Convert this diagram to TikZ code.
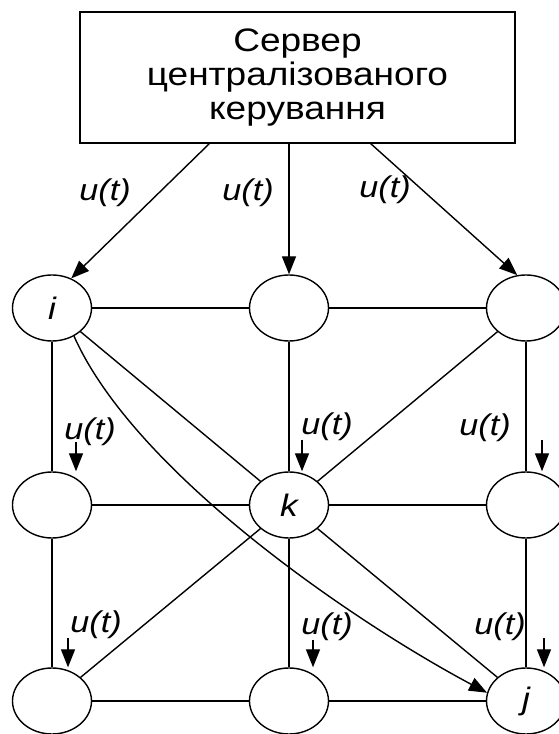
\documentclass[tikz,border=0pt]{standalone}
\usepackage{fontspec}
\setmainfont[FakeStretch=1.14]{Liberation Sans}
\usetikzlibrary{arrows.meta,shapes.geometric}
\begin{document}
\begin{tikzpicture}[x=1pt,y=1pt,
  nd/.style={ellipse,draw,line width=1.4pt,minimum width=79pt,minimum height=66pt,inner sep=0pt,font=\fontsize{31}{31}\selectfont\itshape},
  lbl/.style={font=\fontsize{30}{30}\selectfont\itshape,inner sep=0pt},
  edge/.style={line width=1.4pt},
  arr/.style={line width=1.4pt,-{Triangle[length=18pt,width=14pt]}},
]
\useasboundingbox (0,0) rectangle (558,734);
\node[draw,line width=1.8pt,minimum width=435pt,minimum height=131pt,align=center,inner sep=0pt,font=\fontsize{32.5}{34}\selectfont] (srv) at (297.5,656.5) {Сервер\\централізованого\\керування};

\node[nd] (i)  at (52,426) {i};
\node[nd] (t2) at (289,426) {};
\node[nd] (t3) at (526,426) {};
\node[nd] (ml) at (52,229) {};
\node[nd] (k)  at (289,229) {k};
\node[nd] (mr) at (526,229) {};
\node[nd] (bl) at (52,33) {};
\node[nd] (bm) at (289,33) {};
\node[nd] (j)  at (526,33) {j};

% server arrows
\coordinate (s1) at (210,591);
\coordinate (s2) at (289,591);
\coordinate (s3) at (370,591);
\draw[arr] (s1) -- (i.57);
\draw[arr] (s2) -- (t2.north);
\draw[arr] (s3) -- (t3.105);
\node[lbl] (l1) at (105,541) {u(t)};
\node[lbl] (l2) at (248,541) {u(t)};
\node[lbl] (l3) at (385,544) {u(t)};

% grid
\draw[edge] (i) -- (t2);
\draw[edge] (t2) -- (t3);
\draw[edge] (ml) -- (k);
\draw[edge] (k) -- (mr);
\draw[edge] (bl) -- (bm);
\draw[edge] (bm) -- (j);
\draw[edge] (i) -- (ml);
\draw[edge] (ml) -- (bl);
\draw[edge] (t2) -- (k);
\draw[edge] (k) -- (bm);
\draw[edge] (t3) -- (mr);
\draw[edge] (mr) -- (j);
% diagonals
\draw[edge] (i) -- (k);
\draw[edge] (t3) -- (k);
\draw[edge] (k) -- (bl);
\draw[edge] (k) -- (j);
\draw[arr] (i.308) .. controls +(-66:150) and +(152:150) .. (j.168);

% local control inputs
\coordinate (a1) at (76,292);
\coordinate (a2) at (302,294);
\coordinate (a3) at (542,294);
\coordinate (a4) at (68,96);
\coordinate (a5) at (313,94);
\coordinate (a6) at (544,96);
\draw[arr] (a1) -- (a1 |- ml.north);
\draw[arr] (a2) -- (a2 |- k.north);
\draw[arr] (a3) -- (a3 |- mr.north);
\draw[arr] (a4) -- (a4 |- bl.north);
\draw[arr] (a5) -- (a5 |- bm.north);
\draw[arr] (a6) -- (a6 |- j.north);
\node[lbl] (l4) at (90,302) {u(t)};
\node[lbl] (l5) at (327,307) {u(t)};
\node[lbl] (l6) at (485,306) {u(t)};
\node[lbl] (l7) at (96,109) {u(t)};
\node[lbl] (l8) at (327,107) {u(t)};
\node[lbl] (l9) at (500,107) {u(t)};
\end{tikzpicture}
\end{document}
